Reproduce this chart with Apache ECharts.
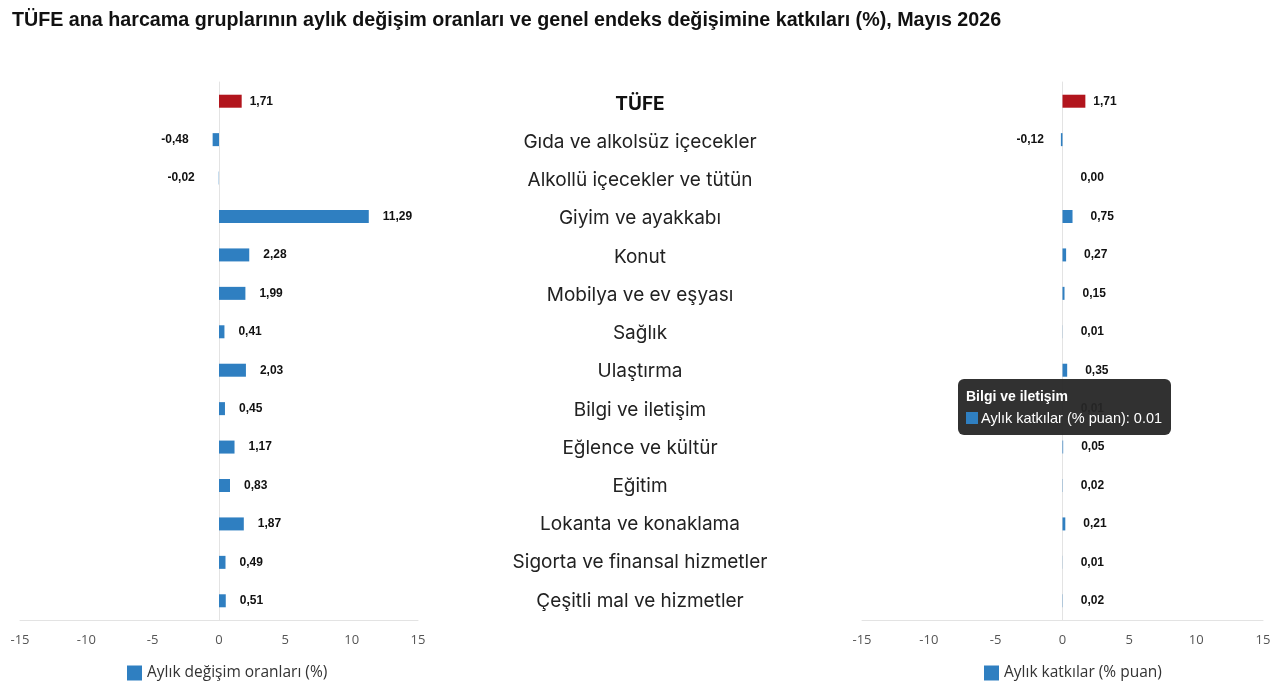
<!DOCTYPE html>
<html>
<head>
<meta charset="utf-8">
<script src="https://cdn.jsdelivr.net/npm/echarts@6/dist/echarts.min.js"></script>
<style>
html,body{margin:0;padding:0;background:#fff;}
#c{width:1280px;height:688px;}
</style>
</head>
<body>
<div id="c"></div>
<script>
var categories = ["TÜFE","Gıda ve alkolsüz içecekler","Alkollü içecekler ve tütün","Giyim ve ayakkabı","Konut","Mobilya ve ev eşyası","Sağlık","Ulaştırma","Bilgi ve iletişim","Eğlence ve kültür","Eğitim","Lokanta ve konaklama","Sigorta ve finansal hizmetler","Çeşitli mal ve hizmetler"];
var monthlyChange = [1.71,-0.48,-0.02,11.29,2.28,1.99,0.41,2.03,0.45,1.17,0.83,1.87,0.49,0.51];
var contribution = [1.71,-0.12,0.00,0.75,0.27,0.15,0.01,0.35,0.01,0.05,0.02,0.21,0.01,0.02];
var axisTicks = [-15,-10,-5,0,5,10,15];
var seriesNames = ["Aylık değişim oranları (%)","Aylık katkılar (% puan)"];
var chartTitle = "TÜFE ana harcama gruplarının aylık değişim oranları ve genel endeks değişimine katkıları (%), Mayıs 2026";

var BLUE = '#2f7fc1', RED = '#b2151d';
function fmt(v){ return v.toFixed(2).replace('.', ','); }
function buildData(arr, redDist, negDist){
  return arr.map(function(v,i){
    var item = {value: v, label: {}};
    if (i === 0) { item.itemStyle = {color: RED}; item.label.distance = redDist; }
    if (v < 0) { item.label.position = 'left'; item.label.distance = negDist; }
    return item;
  });
}
var labelStyle = {show:true, position:'right', distance:14, fontFamily:'Liberation Sans, Arial, sans-serif', fontWeight:'bold', fontSize:12, color:'#111', formatter:function(p){return fmt(p.value);}};

var chart = echarts.init(document.getElementById('c'));
function valueAxis(gi){
  return {type:'value', gridIndex:gi, min:-15, max:15, interval:5,
    axisLine:{show:true, lineStyle:{color:'#e3e3e3'}}, axisTick:{show:false}, splitLine:{show:false},
    axisLabel:{color:'#555', fontSize:13, fontFamily:'Open Sans, Noto Sans, sans-serif', margin:14,
      formatter:function(v){ return axisTicks.indexOf(v) >= 0 ? String(v) : ''; }}};
}
function catAxis(gi){
  return {type:'category', gridIndex:gi, data:categories, inverse:true,
    axisLine:{show:true, onZero:true, lineStyle:{color:'#e3e3e3'}}, axisTick:{show:false}, axisLabel:{show:false}, splitLine:{show:false}};
}
var option = {
  animation:false,
  title:{text:chartTitle, left:7, top:6, textStyle:{fontFamily:'Liberation Sans, Arial, sans-serif', fontWeight:'bold', fontSize:19.7, color:'#111'}},
  tooltip:{trigger:'item', alwaysShowContent:true, backgroundColor:'rgba(38,38,38,0.95)', borderWidth:0, padding:[8,9,8,8],
    extraCssText:'border-radius:6px;box-shadow:none;',
    textStyle:{color:'#fff', fontSize:14.5, fontFamily:'Liberation Sans, Arial, sans-serif'},
    position:function(){ return [958,379]; },
    formatter:function(p){
      return '<div style="font-weight:bold;font-size:14px;line-height:18px;margin-bottom:4px">'+p.name+'</div>'+
        '<div style="line-height:18px"><span style="display:inline-block;width:12px;height:12px;background:'+BLUE+';margin-right:3px;vertical-align:-1px"></span>'+p.seriesName+': '+p.value+'</div>';
    }},
  legend:[
    {data:[seriesNames[0]], left:122, top:660, itemWidth:15, itemHeight:15, itemGap:7, icon:'rect', textStyle:{fontSize:15.5, color:'#333', fontFamily:'Open Sans, Noto Sans, sans-serif'}},
    {data:[seriesNames[1]], left:979, top:660, itemWidth:15, itemHeight:15, itemGap:7, icon:'rect', textStyle:{fontSize:15.5, color:'#333', fontFamily:'Open Sans, Noto Sans, sans-serif'}}
  ],
  grid:[
    {left:20, width:398, top:82, height:538},
    {left:862, width:401, top:82, height:538},
    {left:540, width:200, top:85, height:535}
  ],
  xAxis:[valueAxis(0), valueAxis(1), {type:'value', gridIndex:2, min:0, max:1, show:false}],
  yAxis:[catAxis(0), catAxis(1),
    {type:'category', gridIndex:2, data:categories, inverse:true, axisLine:{show:false}, axisTick:{show:false},
     axisLabel:{show:true, align:'center', margin:-100, fontSize:19, color:'#222', fontFamily:'Inter, Roboto, sans-serif',
       formatter:function(v, i){ return i === 0 ? '{b|'+v+'}' : v; }, rich:{b:{fontWeight:'bold', fontSize:19, color:'#111', fontFamily:'Inter, Roboto, sans-serif'}}}}],
  series:[
    {name:seriesNames[0], type:'bar', xAxisIndex:0, yAxisIndex:0, barWidth:13, itemStyle:{color:BLUE}, label:labelStyle, data:buildData(monthlyChange, 8, 24)},
    {name:seriesNames[1], type:'bar', xAxisIndex:1, yAxisIndex:1, barWidth:13, itemStyle:{color:BLUE}, label:Object.assign({}, labelStyle, {distance:18}), data:buildData(contribution, 8, 17)}
  ]
};
chart.setOption(option);
chart.dispatchAction({type:'showTip', seriesIndex:1, dataIndex:8});
</script>
</body>
</html>
